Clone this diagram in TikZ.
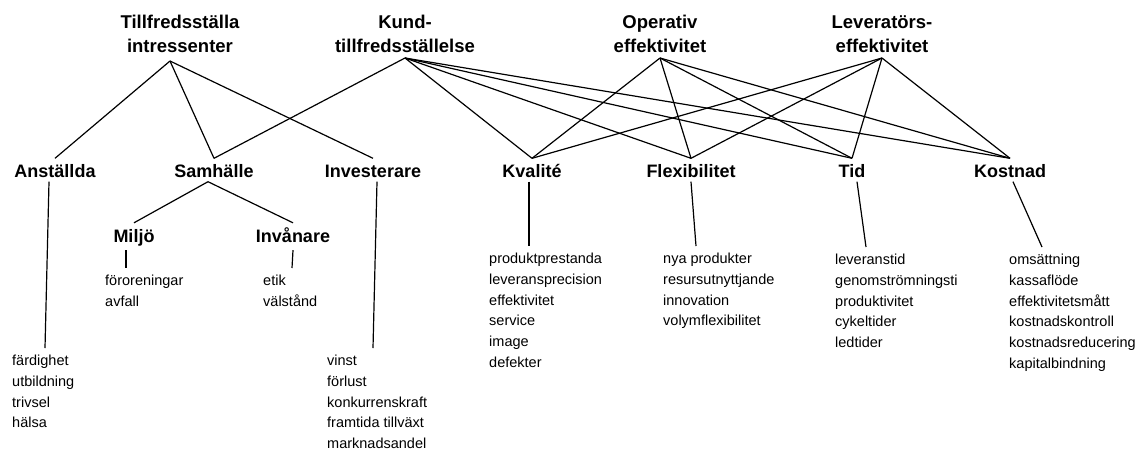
\documentclass[tikz,border=0pt]{standalone}
\usepackage{fontspec}
\setmainfont{Liberation Sans}
\usepackage{tikz}
\tikzstyle{goal} = [font=\fontsize{18.5}{24}\selectfont\bfseries, align=center, inner xsep=0pt, inner ysep=5pt, anchor=south]
\tikzstyle{factor} = [font=\fontsize{18}{20}\selectfont\bfseries, text height=19pt, text depth=4pt, inner sep=0pt, anchor=base]
\tikzstyle{measures} = [font=\fontsize{14.5}{20.7}\selectfont, align=left, inner xsep=0pt, inner ysep=7pt, anchor=north west]
\tikzstyle{link} = [line width=1.2pt]

\begin{document}
\begin{tikzpicture}[x=1pt,y=-1pt]
	\useasboundingbox (0,0) rectangle (1143,451);
	
	%Goals
	\node[goal] (tillf) at (180,58) {Tillfredsställa\\intressenter};
	\node[goal] (kund) at (405,58) {Kund-\\tillfredsställelse};
	\node[goal] (oper) at (660,58) {Operativ\\effektivitet};
	\node[goal] (lev) at (882,58) {Leveratörs-\\effektivitet};
	
	%Factors
	\node[factor] (anst) at (55,177.5) {Anställda};
	\node[factor] (samh) at (214,177.5) {Samhälle};
	\node[factor] (inv) at (373,177.5) {Investerare};
	\node[factor] (kval) at (532,177.5) {Kvalité};
	\node[factor] (flex) at (691,177.5) {Flexibilitet};
	\node[factor] (tid) at (852,177.5) {Tid};
	\node[factor] (kost) at (1010,177.5) {Kostnad};
	\node[factor] (milj) at (134,242) {Miljö};
	\node[factor] (inva) at (293,242) {Invånare};
	
	%Measures
	\node[measures] (anstm) at (12,348) {färdighet\\utbildning\\trivsel\\hälsa};
	\node[measures] (invm) at (327,348) {vinst\\förlust\\konkurrenskraft\\framtida tillväxt\\marknadsandel};
	\node[measures] (kvalm) at (489,246) {produktprestanda\\leveransprecision\\effektivitet\\service\\image\\defekter};
	\node[measures] (flexm) at (663,246) {nya produkter\\resursutnyttjande\\innovation\\volymflexibilitet};
	\node[measures] (tidm) at (835,247) {leveranstid\\genomströmningsti\\produktivitet\\cykeltider\\ledtider};
	\node[measures] (kostm) at (1009,247) {omsättning\\kassaflöde\\effektivitetsmått\\kostnadskontroll\\kostnadsreducering\\kapitalbindning};
	\node[measures] (miljm) at (105,268) {föroreningar\\avfall};
	\node[measures] (invam) at (263,268) {etik\\välstånd};
	
	%Lines
	\foreach \f in {anst,samh,inv}
		\draw[link] ([xshift=-10pt,yshift=-3pt]tillf.south) -- (\f.north);
	\foreach \f in {samh,kval,flex,tid,kost}
		\draw[link] (kund.south) -- (\f.north);
	\foreach \f in {kval,flex,tid,kost}
		\draw[link] (oper.south) -- (\f.north);
	\foreach \f in {kval,flex,tid,kost}
		\draw[link] (lev.south) -- (\f.north);
	
	\draw[link] ([xshift=-6pt]samh.south) -- (milj.north);
	\draw[link] ([xshift=-6pt]samh.south) -- (inva.north);
	\draw[link] ([xshift=-8pt,yshift=-4pt]milj.south) -- ([xshift=21pt]miljm.north west);
	\draw[link] ([yshift=-4pt]inva.south) -- ([xshift=29pt]invam.north west);
	
	\draw[link] ([xshift=-6pt]anst.south) -- ([xshift=33pt]anstm.north west);
	\draw[link] ([xshift=4pt]inv.south) -- ([xshift=46pt]invm.north west);
	\draw[link] ([xshift=-3pt]kval.south) -- ([xshift=40pt]kvalm.north west);
	\draw[link] (flex.south) -- ([xshift=33pt]flexm.north west);
	\draw[link] ([xshift=5pt]tid.south) -- ([xshift=31pt]tidm.north west);
	\draw[link] ([xshift=3pt]kost.south) -- ([xshift=33pt]kostm.north west);
	
\end{tikzpicture}
\end{document}
